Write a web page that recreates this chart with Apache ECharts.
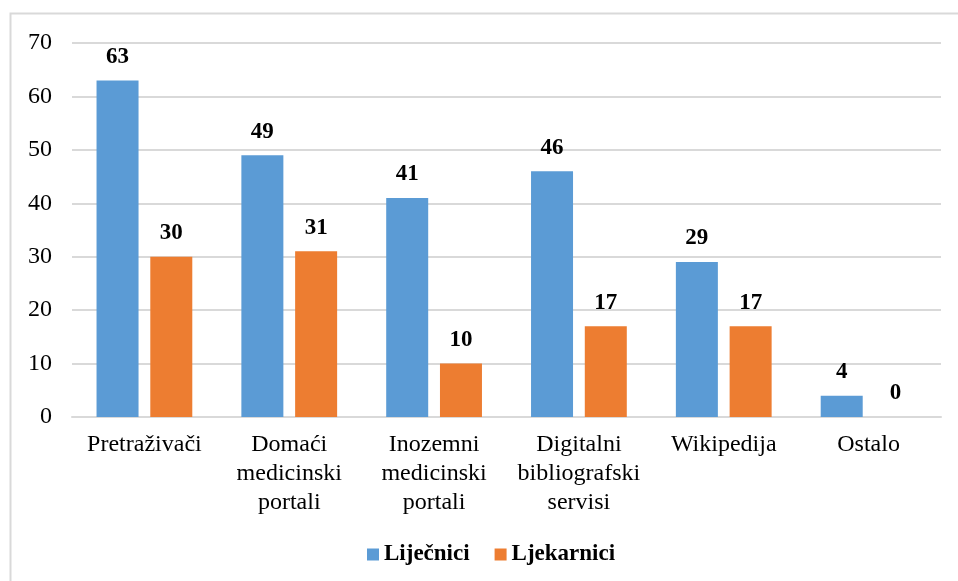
<!DOCTYPE html>
<html><head><meta charset="utf-8">
<script src="https://cdn.jsdelivr.net/npm/echarts@6/dist/echarts.min.js"></script>
<style>html,body{margin:0;padding:0;background:#fff}#c{width:958px;height:581px}</style>
</head><body><div id="c"></div>
<script>
const categories = ['Pretraživači', 'Domaći\nmedicinski\nportali', 'Inozemni\nmedicinski\nportali', 'Digitalni\nbibliografski\nservisi', 'Wikipedija', 'Ostalo'];
const lijecnici = [63, 49, 41, 46, 29, 4];
const ljekarnici = [30, 31, 10, 17, 17, 0];
const seriesNames = ['Liječnici', 'Ljekarnici'];
const font = 'Liberation Serif';
const chart = echarts.init(document.getElementById('c'));
const lbl = {show: true, position: 'top', distance: 12, fontFamily: font, fontSize: 23, fontWeight: 'bold', color: '#000'};
chart.setOption({
  animation: false,
  graphic: [{type: 'rect', shape: {x: 10.5, y: 13.5, width: 1000, height: 700}, style: {fill: 'none', stroke: '#d9d9d9', lineWidth: 2}, silent: true}],
  grid: {left: 72, right: 17, top: 43, bottom: 164},
  legend: {top: 538, left: 362, itemWidth: 12, itemHeight: 12, itemGap: 25, itemTextGap: 6, icon: 'rect',
    textStyle: {fontFamily: font, fontSize: 23, fontWeight: 'bold', color: '#000'}, data: seriesNames},
  xAxis: {type: 'category', data: categories,
    axisLine: {lineStyle: {color: '#d9d9d9', width: 2}}, axisTick: {show: false},
    axisLabel: {interval: 0, margin: 13, fontFamily: font, fontSize: 24, color: '#000', lineHeight: 29}},
  yAxis: {type: 'value', min: 0, max: 70, interval: 10,
    axisLine: {show: false}, axisTick: {show: false},
    splitLine: {lineStyle: {color: '#d9d9d9', width: 2}},
    axisLabel: {margin: 20, fontFamily: font, fontSize: 24, color: '#000'}},
  series: [
    {name: seriesNames[0], type: 'bar', data: lijecnici, barWidth: 42, barGap: '28%', itemStyle: {color: '#5B9BD5'}, label: lbl},
    {name: seriesNames[1], type: 'bar', data: ljekarnici, barWidth: 42, itemStyle: {color: '#ED7D31'}, label: lbl}
  ]
});
</script></body></html>
